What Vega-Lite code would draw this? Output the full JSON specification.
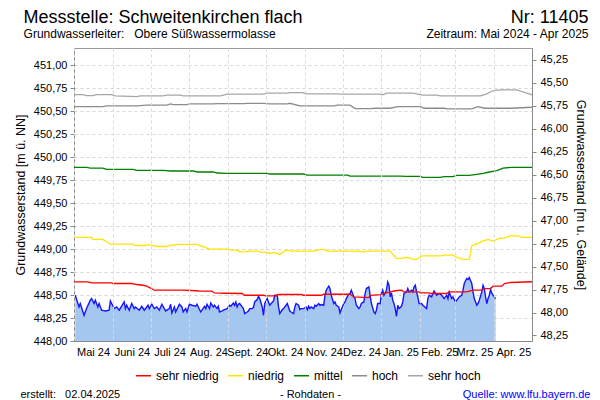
{
  "$schema": "https://vega.github.io/schema/vega-lite/v6.json",
  "width": 458,
  "height": 293,
  "autosize": {"type": "none"},
  "padding": {"left": 74, "top": 48, "right": 68, "bottom": 59},
  "background": "white",
  "config": {
    "font": "Liberation Sans",
    "view": {"stroke": "#9a9a9a", "strokeWidth": 1},
    "axis": {"labelFont": "Liberation Sans", "titleFont": "Liberation Sans", "labelColor": "#000000", "titleColor": "#000000", "titleFontWeight": "normal", "domainColor": "#8a8a8a", "tickColor": "#8a8a8a"}
  },
  "datasets": {
    "raw": [
      {"date":"2024-05-02","lev":448.498},{"date":"2024-05-05","lev":448.371},{"date":"2024-05-06","lev":448.408},{"date":"2024-05-09","lev":448.280},{"date":"2024-05-11","lev":448.353},{"date":"2024-05-14","lev":448.444},{"date":"2024-05-15","lev":448.462},{"date":"2024-05-17","lev":448.408},{"date":"2024-05-18","lev":448.444},{"date":"2024-05-20","lev":448.371},{"date":"2024-05-21","lev":448.408},{"date":"2024-05-23","lev":448.335},{"date":"2024-05-26","lev":448.327},{"date":"2024-05-29","lev":448.335},{"date":"2024-05-30","lev":448.436},{"date":"2024-05-31","lev":448.408},
      {"date":"2024-06-02","lev":448.353},{"date":"2024-06-04","lev":448.371},{"date":"2024-06-06","lev":448.335},{"date":"2024-06-10","lev":448.425},{"date":"2024-06-11","lev":448.353},{"date":"2024-06-12","lev":448.389},{"date":"2024-06-14","lev":448.335},{"date":"2024-06-16","lev":448.408},{"date":"2024-06-18","lev":448.353},{"date":"2024-06-19","lev":448.371},{"date":"2024-06-22","lev":448.335},{"date":"2024-06-24","lev":448.378},{"date":"2024-06-26","lev":448.335},{"date":"2024-06-29","lev":448.389},{"date":"2024-06-30","lev":448.353},
      {"date":"2024-07-02","lev":448.400},{"date":"2024-07-04","lev":448.353},{"date":"2024-07-06","lev":448.371},{"date":"2024-07-08","lev":448.335},{"date":"2024-07-10","lev":448.400},{"date":"2024-07-13","lev":448.327},{"date":"2024-07-16","lev":448.353},{"date":"2024-07-17","lev":448.400},{"date":"2024-07-18","lev":448.305},{"date":"2024-07-20","lev":448.371},{"date":"2024-07-21","lev":448.316},{"date":"2024-07-24","lev":448.400},{"date":"2024-07-26","lev":448.371},{"date":"2024-07-27","lev":448.316},{"date":"2024-07-29","lev":448.353},{"date":"2024-07-30","lev":448.316},
      {"date":"2024-08-01","lev":448.400},{"date":"2024-08-03","lev":448.389},{"date":"2024-08-06","lev":448.378},{"date":"2024-08-07","lev":448.400},{"date":"2024-08-08","lev":448.371},{"date":"2024-08-10","lev":448.316},{"date":"2024-08-11","lev":448.335},{"date":"2024-08-13","lev":448.378},{"date":"2024-08-14","lev":448.353},{"date":"2024-08-15","lev":448.400},{"date":"2024-08-17","lev":448.353},{"date":"2024-08-18","lev":448.414},{"date":"2024-08-20","lev":448.371},{"date":"2024-08-21","lev":448.389},{"date":"2024-08-23","lev":448.353},{"date":"2024-08-24","lev":448.378},{"date":"2024-08-25","lev":448.316},{"date":"2024-08-27","lev":448.327},{"date":"2024-08-28","lev":448.335},{"date":"2024-08-31","lev":448.353},
      {"date":"2024-09-02","lev":448.389},{"date":"2024-09-03","lev":448.378},{"date":"2024-09-05","lev":448.414},{"date":"2024-09-06","lev":448.389},{"date":"2024-09-07","lev":448.425},{"date":"2024-09-08","lev":448.371},{"date":"2024-09-09","lev":448.400},{"date":"2024-09-10","lev":448.408},{"date":"2024-09-12","lev":448.371},{"date":"2024-09-13","lev":448.353},{"date":"2024-09-14","lev":448.299},{"date":"2024-09-16","lev":448.316},{"date":"2024-09-17","lev":448.327},{"date":"2024-09-18","lev":448.353},{"date":"2024-09-20","lev":448.353},{"date":"2024-09-21","lev":448.364},{"date":"2024-09-22","lev":448.425},{"date":"2024-09-24","lev":448.451},{"date":"2024-09-25","lev":448.487},{"date":"2024-09-26","lev":448.462},{"date":"2024-09-28","lev":448.371},{"date":"2024-09-29","lev":448.280},{"date":"2024-09-30","lev":448.408},
      {"date":"2024-10-02","lev":448.462},{"date":"2024-10-03","lev":448.425},{"date":"2024-10-04","lev":448.389},{"date":"2024-10-07","lev":448.436},{"date":"2024-10-08","lev":448.498},{"date":"2024-10-10","lev":448.498},{"date":"2024-10-11","lev":448.371},{"date":"2024-10-12","lev":448.299},{"date":"2024-10-14","lev":448.342},{"date":"2024-10-15","lev":448.353},{"date":"2024-10-17","lev":448.389},{"date":"2024-10-18","lev":448.408},{"date":"2024-10-20","lev":448.327},{"date":"2024-10-21","lev":448.316},{"date":"2024-10-23","lev":448.299},{"date":"2024-10-24","lev":448.371},{"date":"2024-10-25","lev":448.408},{"date":"2024-10-27","lev":448.389},{"date":"2024-10-28","lev":448.342},{"date":"2024-10-29","lev":448.353},{"date":"2024-10-31","lev":448.353},
      {"date":"2024-11-02","lev":448.371},{"date":"2024-11-03","lev":448.342},{"date":"2024-11-04","lev":448.378},{"date":"2024-11-05","lev":448.353},{"date":"2024-11-06","lev":448.371},{"date":"2024-11-08","lev":448.353},{"date":"2024-11-09","lev":448.389},{"date":"2024-11-10","lev":448.378},{"date":"2024-11-12","lev":448.408},{"date":"2024-11-13","lev":448.389},{"date":"2024-11-14","lev":448.397},{"date":"2024-11-16","lev":448.389},{"date":"2024-11-17","lev":448.498},{"date":"2024-11-18","lev":448.553},{"date":"2024-11-20","lev":448.597},{"date":"2024-11-21","lev":448.571},{"date":"2024-11-22","lev":448.498},{"date":"2024-11-24","lev":448.408},{"date":"2024-11-25","lev":448.425},{"date":"2024-11-26","lev":448.389},{"date":"2024-11-28","lev":448.371},{"date":"2024-11-29","lev":448.305},{"date":"2024-11-30","lev":448.342},
      {"date":"2024-12-02","lev":448.408},{"date":"2024-12-03","lev":448.425},{"date":"2024-12-04","lev":448.462},{"date":"2024-12-06","lev":448.509},{"date":"2024-12-07","lev":448.517},{"date":"2024-12-08","lev":448.553},{"date":"2024-12-10","lev":448.480},{"date":"2024-12-11","lev":448.462},{"date":"2024-12-12","lev":448.389},{"date":"2024-12-14","lev":448.353},{"date":"2024-12-15","lev":448.371},{"date":"2024-12-16","lev":448.408},{"date":"2024-12-18","lev":448.425},{"date":"2024-12-19","lev":448.517},{"date":"2024-12-20","lev":448.571},{"date":"2024-12-22","lev":448.589},{"date":"2024-12-23","lev":448.498},{"date":"2024-12-24","lev":448.408},{"date":"2024-12-26","lev":448.316},{"date":"2024-12-27","lev":448.299},{"date":"2024-12-28","lev":448.335},{"date":"2024-12-29","lev":448.408},{"date":"2024-12-31","lev":448.408},
      {"date":"2025-01-01","lev":448.517},{"date":"2025-01-02","lev":448.553},{"date":"2025-01-03","lev":448.498},{"date":"2025-01-05","lev":448.553},{"date":"2025-01-06","lev":448.643},{"date":"2025-01-07","lev":448.607},{"date":"2025-01-08","lev":448.480},{"date":"2025-01-09","lev":448.523},{"date":"2025-01-10","lev":448.444},{"date":"2025-01-11","lev":448.408},{"date":"2025-01-12","lev":448.353},{"date":"2025-01-13","lev":448.269},{"date":"2025-01-14","lev":448.389},{"date":"2025-01-15","lev":448.353},{"date":"2025-01-17","lev":448.378},{"date":"2025-01-18","lev":448.425},{"date":"2025-01-19","lev":448.517},{"date":"2025-01-21","lev":448.534},{"date":"2025-01-22","lev":448.571},{"date":"2025-01-23","lev":448.534},{"date":"2025-01-25","lev":448.553},{"date":"2025-01-26","lev":448.534},{"date":"2025-01-27","lev":448.589},{"date":"2025-01-28","lev":448.607},{"date":"2025-01-29","lev":448.534},{"date":"2025-01-30","lev":448.480},{"date":"2025-01-31","lev":448.408},
      {"date":"2025-02-02","lev":448.408},{"date":"2025-02-03","lev":448.389},{"date":"2025-02-04","lev":448.378},{"date":"2025-02-06","lev":448.353},{"date":"2025-02-07","lev":448.462},{"date":"2025-02-08","lev":448.498},{"date":"2025-02-10","lev":448.480},{"date":"2025-02-11","lev":448.517},{"date":"2025-02-12","lev":448.545},{"date":"2025-02-14","lev":448.498},{"date":"2025-02-15","lev":448.509},{"date":"2025-02-16","lev":448.517},{"date":"2025-02-18","lev":448.498},{"date":"2025-02-19","lev":448.480},{"date":"2025-02-20","lev":448.462},{"date":"2025-02-22","lev":448.498},{"date":"2025-02-23","lev":448.462},{"date":"2025-02-24","lev":448.534},{"date":"2025-02-26","lev":448.462},{"date":"2025-02-27","lev":448.480},
      {"date":"2025-03-01","lev":448.425},{"date":"2025-03-03","lev":448.462},{"date":"2025-03-04","lev":448.480},{"date":"2025-03-06","lev":448.498},{"date":"2025-03-07","lev":448.553},{"date":"2025-03-08","lev":448.626},{"date":"2025-03-10","lev":448.680},{"date":"2025-03-11","lev":448.670},{"date":"2025-03-12","lev":448.691},{"date":"2025-03-14","lev":448.626},{"date":"2025-03-15","lev":448.534},{"date":"2025-03-16","lev":448.462},{"date":"2025-03-18","lev":448.389},{"date":"2025-03-19","lev":448.408},{"date":"2025-03-20","lev":448.444},{"date":"2025-03-22","lev":448.534},{"date":"2025-03-23","lev":448.607},{"date":"2025-03-24","lev":448.571},{"date":"2025-03-25","lev":448.480},{"date":"2025-03-26","lev":448.408},{"date":"2025-03-27","lev":448.462},{"date":"2025-03-28","lev":448.498},{"date":"2025-03-29","lev":448.561},{"date":"2025-03-30","lev":448.517},{"date":"2025-04-01","lev":448.480},{"date":"2025-04-02","lev":448.462}
    ],
    "stats": [
      {"date":"2024-05-01","stat":"sehr niedrig","lev":448.643},{"date":"2024-05-12","stat":"sehr niedrig","lev":448.643},{"date":"2024-05-15","stat":"sehr niedrig","lev":448.632},{"date":"2024-05-31","stat":"sehr niedrig","lev":448.632},{"date":"2024-06-01","stat":"sehr niedrig","lev":448.626},{"date":"2024-06-16","stat":"sehr niedrig","lev":448.626},{"date":"2024-06-20","stat":"sehr niedrig","lev":448.615},{"date":"2024-06-25","stat":"sehr niedrig","lev":448.607},{"date":"2024-06-28","stat":"sehr niedrig","lev":448.597},{"date":"2024-07-01","stat":"sehr niedrig","lev":448.575},{"date":"2024-07-04","stat":"sehr niedrig","lev":448.553},{"date":"2024-07-26","stat":"sehr niedrig","lev":448.553},{"date":"2024-08-07","stat":"sehr niedrig","lev":448.547},{"date":"2024-08-09","stat":"sehr niedrig","lev":448.542},{"date":"2024-08-19","stat":"sehr niedrig","lev":448.542},{"date":"2024-08-21","stat":"sehr niedrig","lev":448.523},{"date":"2024-08-29","stat":"sehr niedrig","lev":448.520},{"date":"2024-09-12","stat":"sehr niedrig","lev":448.517},{"date":"2024-09-14","stat":"sehr niedrig","lev":448.498},{"date":"2024-09-29","stat":"sehr niedrig","lev":448.498},{"date":"2024-10-01","stat":"sehr niedrig","lev":448.491},{"date":"2024-10-09","stat":"sehr niedrig","lev":448.491},{"date":"2024-10-11","stat":"sehr niedrig","lev":448.506},{"date":"2024-10-29","stat":"sehr niedrig","lev":448.506},{"date":"2024-10-31","stat":"sehr niedrig","lev":448.498},{"date":"2024-11-14","stat":"sehr niedrig","lev":448.498},{"date":"2024-11-16","stat":"sehr niedrig","lev":448.509},{"date":"2024-12-07","stat":"sehr niedrig","lev":448.509},{"date":"2024-12-10","stat":"sehr niedrig","lev":448.480},{"date":"2024-12-22","stat":"sehr niedrig","lev":448.473},{"date":"2024-12-23","stat":"sehr niedrig","lev":448.498},{"date":"2025-01-01","stat":"sehr niedrig","lev":448.506},{"date":"2025-01-04","stat":"sehr niedrig","lev":448.520},{"date":"2025-01-12","stat":"sehr niedrig","lev":448.547},{"date":"2025-01-17","stat":"sehr niedrig","lev":448.553},{"date":"2025-01-19","stat":"sehr niedrig","lev":448.534},{"date":"2025-01-31","stat":"sehr niedrig","lev":448.534},{"date":"2025-02-01","stat":"sehr niedrig","lev":448.523},{"date":"2025-02-08","stat":"sehr niedrig","lev":448.523},{"date":"2025-02-09","stat":"sehr niedrig","lev":448.517},{"date":"2025-02-22","stat":"sehr niedrig","lev":448.517},{"date":"2025-02-24","stat":"sehr niedrig","lev":448.534},{"date":"2025-03-10","stat":"sehr niedrig","lev":448.534},{"date":"2025-03-15","stat":"sehr niedrig","lev":448.553},{"date":"2025-03-22","stat":"sehr niedrig","lev":448.553},{"date":"2025-03-24","stat":"sehr niedrig","lev":448.571},{"date":"2025-03-29","stat":"sehr niedrig","lev":448.571},{"date":"2025-03-31","stat":"sehr niedrig","lev":448.597},{"date":"2025-04-07","stat":"sehr niedrig","lev":448.597},{"date":"2025-04-09","stat":"sehr niedrig","lev":448.626},{"date":"2025-04-14","stat":"sehr niedrig","lev":448.637},{"date":"2025-05-01","stat":"sehr niedrig","lev":448.645},
      {"date":"2024-05-01","stat":"niedrig","lev":449.128},{"date":"2024-05-15","stat":"niedrig","lev":449.128},{"date":"2024-05-16","stat":"niedrig","lev":449.106},{"date":"2024-05-24","stat":"niedrig","lev":449.106},{"date":"2024-05-27","stat":"niedrig","lev":449.080},{"date":"2024-05-30","stat":"niedrig","lev":449.054},{"date":"2024-06-17","stat":"niedrig","lev":449.054},{"date":"2024-06-19","stat":"niedrig","lev":449.040},{"date":"2024-06-27","stat":"niedrig","lev":449.040},{"date":"2024-06-29","stat":"niedrig","lev":449.051},{"date":"2024-07-02","stat":"niedrig","lev":449.040},{"date":"2024-07-06","stat":"niedrig","lev":449.029},{"date":"2024-07-14","stat":"niedrig","lev":449.029},{"date":"2024-07-17","stat":"niedrig","lev":449.040},{"date":"2024-07-22","stat":"niedrig","lev":449.051},{"date":"2024-08-07","stat":"niedrig","lev":449.051},{"date":"2024-08-09","stat":"niedrig","lev":449.040},{"date":"2024-08-13","stat":"niedrig","lev":449.022},{"date":"2024-08-17","stat":"niedrig","lev":449.000},{"date":"2024-08-31","stat":"niedrig","lev":449.000},{"date":"2024-09-04","stat":"niedrig","lev":448.989},{"date":"2024-09-08","stat":"niedrig","lev":448.989},{"date":"2024-09-10","stat":"niedrig","lev":448.971},{"date":"2024-09-14","stat":"niedrig","lev":448.971},{"date":"2024-09-18","stat":"niedrig","lev":448.978},{"date":"2024-09-24","stat":"niedrig","lev":448.978},{"date":"2024-09-28","stat":"niedrig","lev":448.964},{"date":"2024-10-02","stat":"niedrig","lev":448.964},{"date":"2024-10-04","stat":"niedrig","lev":448.953},{"date":"2024-10-07","stat":"niedrig","lev":448.964},{"date":"2024-10-12","stat":"niedrig","lev":448.942},{"date":"2024-10-17","stat":"niedrig","lev":448.989},{"date":"2024-10-22","stat":"niedrig","lev":448.978},{"date":"2024-11-09","stat":"niedrig","lev":448.978},{"date":"2024-11-13","stat":"niedrig","lev":448.997},{"date":"2024-11-16","stat":"niedrig","lev":448.997},{"date":"2024-11-19","stat":"niedrig","lev":448.978},{"date":"2024-12-10","stat":"niedrig","lev":448.978},{"date":"2024-12-12","stat":"niedrig","lev":448.982},{"date":"2024-12-17","stat":"niedrig","lev":448.971},{"date":"2024-12-21","stat":"niedrig","lev":448.978},{"date":"2025-01-08","stat":"niedrig","lev":448.978},{"date":"2025-01-13","stat":"niedrig","lev":448.899},{"date":"2025-01-17","stat":"niedrig","lev":448.899},{"date":"2025-01-20","stat":"niedrig","lev":448.909},{"date":"2025-01-22","stat":"niedrig","lev":448.909},{"date":"2025-01-26","stat":"niedrig","lev":448.888},{"date":"2025-01-29","stat":"niedrig","lev":448.888},{"date":"2025-02-02","stat":"niedrig","lev":448.927},{"date":"2025-02-17","stat":"niedrig","lev":448.927},{"date":"2025-02-21","stat":"niedrig","lev":448.935},{"date":"2025-02-27","stat":"niedrig","lev":448.935},{"date":"2025-03-03","stat":"niedrig","lev":448.906},{"date":"2025-03-08","stat":"niedrig","lev":448.888},{"date":"2025-03-12","stat":"niedrig","lev":448.888},{"date":"2025-03-14","stat":"niedrig","lev":449.036},{"date":"2025-03-19","stat":"niedrig","lev":449.062},{"date":"2025-03-23","stat":"niedrig","lev":449.087},{"date":"2025-03-27","stat":"niedrig","lev":449.106},{"date":"2025-03-31","stat":"niedrig","lev":449.087},{"date":"2025-04-05","stat":"niedrig","lev":449.117},{"date":"2025-04-08","stat":"niedrig","lev":449.117},{"date":"2025-04-14","stat":"niedrig","lev":449.145},{"date":"2025-04-20","stat":"niedrig","lev":449.145},{"date":"2025-04-23","stat":"niedrig","lev":449.128},{"date":"2025-05-01","stat":"niedrig","lev":449.128},
      {"date":"2024-05-01","stat":"mittel","lev":449.891},{"date":"2024-05-11","stat":"mittel","lev":449.891},{"date":"2024-05-14","stat":"mittel","lev":449.883},{"date":"2024-05-24","stat":"mittel","lev":449.883},{"date":"2024-05-27","stat":"mittel","lev":449.869},{"date":"2024-06-17","stat":"mittel","lev":449.869},{"date":"2024-06-20","stat":"mittel","lev":449.858},{"date":"2024-07-11","stat":"mittel","lev":449.858},{"date":"2024-07-17","stat":"mittel","lev":449.851},{"date":"2024-08-04","stat":"mittel","lev":449.851},{"date":"2024-08-07","stat":"mittel","lev":449.840},{"date":"2024-08-20","stat":"mittel","lev":449.840},{"date":"2024-08-23","stat":"mittel","lev":449.829},{"date":"2024-08-31","stat":"mittel","lev":449.825},{"date":"2024-10-02","stat":"mittel","lev":449.825},{"date":"2024-10-04","stat":"mittel","lev":449.818},{"date":"2024-10-31","stat":"mittel","lev":449.818},{"date":"2024-11-03","stat":"mittel","lev":449.807},{"date":"2024-12-05","stat":"mittel","lev":449.807},{"date":"2024-12-07","stat":"mittel","lev":449.796},{"date":"2025-01-16","stat":"mittel","lev":449.796},{"date":"2025-01-21","stat":"mittel","lev":449.793},{"date":"2025-02-01","stat":"mittel","lev":449.793},{"date":"2025-02-03","stat":"mittel","lev":449.782},{"date":"2025-02-17","stat":"mittel","lev":449.782},{"date":"2025-02-20","stat":"mittel","lev":449.789},{"date":"2025-02-27","stat":"mittel","lev":449.789},{"date":"2025-03-02","stat":"mittel","lev":449.804},{"date":"2025-03-12","stat":"mittel","lev":449.804},{"date":"2025-03-18","stat":"mittel","lev":449.815},{"date":"2025-03-23","stat":"mittel","lev":449.825},{"date":"2025-03-28","stat":"mittel","lev":449.840},{"date":"2025-04-03","stat":"mittel","lev":449.854},{"date":"2025-04-08","stat":"mittel","lev":449.883},{"date":"2025-04-15","stat":"mittel","lev":449.891},{"date":"2025-05-01","stat":"mittel","lev":449.891},
      {"date":"2024-05-01","stat":"hoch","lev":450.552},{"date":"2024-05-24","stat":"hoch","lev":450.552},{"date":"2024-05-27","stat":"hoch","lev":450.559},{"date":"2024-06-20","stat":"hoch","lev":450.559},{"date":"2024-06-28","stat":"hoch","lev":450.567},{"date":"2024-07-14","stat":"hoch","lev":450.567},{"date":"2024-07-17","stat":"hoch","lev":450.581},{"date":"2024-07-19","stat":"hoch","lev":450.574},{"date":"2024-07-30","stat":"hoch","lev":450.574},{"date":"2024-08-01","stat":"hoch","lev":450.581},{"date":"2024-08-20","stat":"hoch","lev":450.581},{"date":"2024-08-23","stat":"hoch","lev":450.585},{"date":"2024-09-13","stat":"hoch","lev":450.585},{"date":"2024-09-16","stat":"hoch","lev":450.588},{"date":"2024-09-29","stat":"hoch","lev":450.588},{"date":"2024-10-04","stat":"hoch","lev":450.581},{"date":"2024-10-18","stat":"hoch","lev":450.581},{"date":"2024-10-20","stat":"hoch","lev":450.588},{"date":"2024-10-28","stat":"hoch","lev":450.559},{"date":"2024-11-24","stat":"hoch","lev":450.559},{"date":"2024-11-27","stat":"hoch","lev":450.567},{"date":"2024-12-07","stat":"hoch","lev":450.567},{"date":"2024-12-11","stat":"hoch","lev":450.530},{"date":"2024-12-23","stat":"hoch","lev":450.530},{"date":"2024-12-28","stat":"hoch","lev":450.534},{"date":"2025-01-08","stat":"hoch","lev":450.534},{"date":"2025-01-14","stat":"hoch","lev":450.552},{"date":"2025-02-01","stat":"hoch","lev":450.552},{"date":"2025-02-04","stat":"hoch","lev":450.534},{"date":"2025-02-20","stat":"hoch","lev":450.534},{"date":"2025-02-23","stat":"hoch","lev":450.527},{"date":"2025-03-14","stat":"hoch","lev":450.527},{"date":"2025-03-19","stat":"hoch","lev":450.552},{"date":"2025-03-24","stat":"hoch","lev":450.534},{"date":"2025-04-14","stat":"hoch","lev":450.534},{"date":"2025-05-01","stat":"hoch","lev":450.545},
      {"date":"2024-05-01","stat":"sehr hoch","lev":450.683},{"date":"2024-05-08","stat":"sehr hoch","lev":450.683},{"date":"2024-05-11","stat":"sehr hoch","lev":450.672},{"date":"2024-05-16","stat":"sehr hoch","lev":450.672},{"date":"2024-05-19","stat":"sehr hoch","lev":450.683},{"date":"2024-05-31","stat":"sehr hoch","lev":450.683},{"date":"2024-06-03","stat":"sehr hoch","lev":450.669},{"date":"2024-06-20","stat":"sehr hoch","lev":450.661},{"date":"2024-06-23","stat":"sehr hoch","lev":450.669},{"date":"2024-07-11","stat":"sehr hoch","lev":450.669},{"date":"2024-07-14","stat":"sehr hoch","lev":450.676},{"date":"2024-07-25","stat":"sehr hoch","lev":450.676},{"date":"2024-07-27","stat":"sehr hoch","lev":450.669},{"date":"2024-08-26","stat":"sehr hoch","lev":450.669},{"date":"2024-08-31","stat":"sehr hoch","lev":450.687},{"date":"2024-09-29","stat":"sehr hoch","lev":450.687},{"date":"2024-10-02","stat":"sehr hoch","lev":450.698},{"date":"2024-10-18","stat":"sehr hoch","lev":450.698},{"date":"2024-10-20","stat":"sehr hoch","lev":450.705},{"date":"2024-10-30","stat":"sehr hoch","lev":450.705},{"date":"2024-11-02","stat":"sehr hoch","lev":450.690},{"date":"2024-11-26","stat":"sehr hoch","lev":450.690},{"date":"2024-11-29","stat":"sehr hoch","lev":450.687},{"date":"2024-12-31","stat":"sehr hoch","lev":450.687},{"date":"2025-01-02","stat":"sehr hoch","lev":450.680},{"date":"2025-01-05","stat":"sehr hoch","lev":450.698},{"date":"2025-01-26","stat":"sehr hoch","lev":450.698},{"date":"2025-02-03","stat":"sehr hoch","lev":450.676},{"date":"2025-02-14","stat":"sehr hoch","lev":450.676},{"date":"2025-02-17","stat":"sehr hoch","lev":450.669},{"date":"2025-03-21","stat":"sehr hoch","lev":450.669},{"date":"2025-03-26","stat":"sehr hoch","lev":450.690},{"date":"2025-03-31","stat":"sehr hoch","lev":450.727},{"date":"2025-04-06","stat":"sehr hoch","lev":450.734},{"date":"2025-04-19","stat":"sehr hoch","lev":450.734},{"date":"2025-05-01","stat":"sehr hoch","lev":450.680}
    ]
  },
  "layer": [
    {
      "encoding": {
        "x": {
          "field": "date", "type": "temporal",
          "scale": {"domain": [{"year": 2024, "month": 5, "date": 1}, {"year": 2025, "month": 5, "date": 1}]},
          "axis": {
            "orient": "bottom", "title": null, "zindex": 1,
            "values": [{"year":2024,"month":5,"date":1},{"year":2024,"month":6,"date":1},{"year":2024,"month":7,"date":1},{"year":2024,"month":8,"date":1},{"year":2024,"month":9,"date":1},{"year":2024,"month":10,"date":1},{"year":2024,"month":11,"date":1},{"year":2024,"month":12,"date":1},{"year":2025,"month":1,"date":1},{"year":2025,"month":2,"date":1},{"year":2025,"month":3,"date":1},{"year":2025,"month":4,"date":1}],
            "labelExpr": "['Jan.','Feb.','Mrz.','Apr.','Mai','Juni','Juli','Aug.','Sept.','Okt.','Nov.','Dez.'][month(datum.value)] + ' ' + timeFormat(datum.value, '%y')",
            "labelOffset": 19, "labelAlign": "center", "labelFontSize": 11, "labelPadding": 5,
            "ticks": false, "tickSize": 0, "labelOverlap": false, "labelFlush": false, "labelBound": false,
            "grid": true, "gridColor": "#dadada", "gridDash": [3, 3]
          }
        },
        "y": {
          "field": "lev", "type": "quantitative",
          "scale": {"domain": [448, 451.19], "nice": false, "zero": false},
          "axis": {
            "orient": "left", "title": "Grundwasserstand [m ü. NN]", "titleFontSize": 12.5, "titlePadding": 6,
            "values": [448, 448.25, 448.5, 448.75, 449, 449.25, 449.5, 449.75, 450, 450.25, 450.5, 450.75, 451],
            "labelExpr": "replace(format(datum.value, '.2f'), '.', ',')",
            "labelFontSize": 11, "labelPadding": 3, "tickSize": 4,
            "grid": true, "gridColor": "#d6d6d6", "gridDash": [3, 3]
          }
        }
      },
      "layer": [
        {"data": {"name": "raw"}, "mark": {"type": "area", "color": "#a5c6ef", "clip": true}},
        {"data": {"name": "raw"}, "mark": {"type": "line", "color": "#1414ff", "strokeWidth": 1.4}},
        {
          "data": {"name": "stats"},
          "mark": {"type": "line", "strokeWidth": 1.3},
          "encoding": {
            "color": {
              "field": "stat", "type": "nominal",
              "scale": {"domain": ["sehr niedrig", "niedrig", "mittel", "hoch", "sehr hoch"], "range": ["#ff0000", "#ffe400", "#008000", "#8c8c8c", "#a6a6a6"]},
              "legend": {"orient": "none", "legendX": 61, "legendY": 319, "direction": "horizontal", "title": null, "symbolType": "stroke", "symbolSize": 225, "symbolStrokeWidth": 1.5, "labelFontSize": 12, "labelFont": "Liberation Sans", "labelColor": "#000000", "labelOffset": 4, "columnPadding": 6}
            }
          }
        }
      ]
    },
    {
      "data": {"values": [{"tiefe": 46.5}]},
      "mark": {"type": "point", "opacity": 0},
      "encoding": {
        "y": {
          "field": "tiefe", "type": "quantitative",
          "scale": {"domain": [45.12, 48.31], "reverse": true, "nice": false, "zero": false},
          "axis": {
            "orient": "right", "title": "Grundwasserstand [m u. Gelände]", "titleFontSize": 12.5, "titlePadding": 6,
            "values": [45.25, 45.5, 45.75, 46, 46.25, 46.5, 46.75, 47, 47.25, 47.5, 47.75, 48, 48.25],
            "labelExpr": "replace(format(datum.value, '.2f'), '.', ',')",
            "labelFontSize": 11, "labelPadding": 4, "tickSize": 4, "grid": false
          }
        }
      }
    },
    {
      "data": {"values": [{"pos": 0}]},
      "mark": {"type": "point", "opacity": 0},
      "encoding": {
        "x": {
          "field": "pos", "type": "quantitative",
          "scale": {"domain": [0, 10000], "nice": false, "zero": false},
          "axis": {
            "orient": "top", "title": null, "values": [0, 1, 9999, 10000],
            "labelExpr": "datum.value < 0.5 ? 'Messstelle: Schweitenkirchen flach' : datum.value < 5000 ? 'Grundwasserleiter:\u00a0\u00a0\u00a0Obere Süßwassermolasse' : datum.value < 9999.5 ? 'Nr: 11405' : 'Zeitraum: Mai 2024 - Apr 2025'",
            "ticks": false, "tickSize": 0, "domain": false, "grid": false,
            "labelOverlap": false, "labelBound": false, "labelFlush": false, "labelLimit": 1000,
            "labelBaseline": "alphabetic", "labelColor": "#000000",
            "labelFontSize": {"condition": {"test": "datum.value == 0 || datum.value == 9999", "value": 18}, "value": 12},
            "labelPadding": {"condition": {"test": "datum.value == 0 || datum.value == 9999", "value": 26}, "value": 11},
            "labelAlign": {"condition": {"test": "datum.value < 5000", "value": "left"}, "value": "right"},
            "labelOffset": {"condition": {"test": "datum.value < 5000", "value": -51}, "value": 56}
          }
        }
      }
    },
    {
      "data": {"values": [{"pos": 0}]},
      "mark": {"type": "point", "opacity": 0},
      "encoding": {
        "x": {
          "field": "pos", "type": "quantitative",
          "scale": {"domain": [0, 10000], "nice": false, "zero": false},
          "axis": {
            "orient": "bottom", "title": null, "values": [0, 5000, 10000],
            "labelExpr": "datum.value < 1 ? 'erstellt:\u00a0\u00a0\u00a002.04.2025' : datum.value < 9999 ? '- Rohdaten -' : 'Quelle: www.lfu.bayern.de'",
            "ticks": false, "tickSize": 0, "domain": false, "grid": false,
            "labelOverlap": false, "labelBound": false, "labelFlush": false, "labelLimit": 1000,
            "labelBaseline": "alphabetic", "labelFontSize": 11, "labelPadding": 56,
            "labelColor": {"condition": {"test": "datum.value > 9999", "value": "#0000ff"}, "value": "#000000"},
            "labelAlign": {"condition": [{"test": "datum.value < 1", "value": "left"}, {"test": "datum.value > 9999", "value": "right"}], "value": "center"},
            "labelOffset": {"condition": [{"test": "datum.value < 1", "value": -54}, {"test": "datum.value > 9999", "value": 58}], "value": 7}
          }
        }
      }
    }
  ],
  "resolve": {"scale": {"x": "independent", "y": "independent"}, "axis": {"x": "independent", "y": "independent"}}
}
